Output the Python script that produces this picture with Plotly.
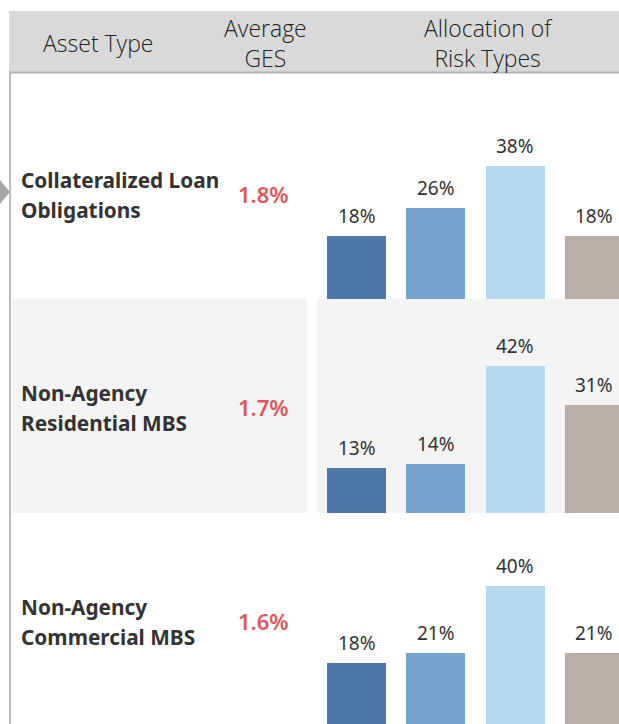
import plotly.graph_objects as go

# data
asset_types = [["Collateralized Loan", "Obligations"],
               ["Non-Agency", "Residential MBS"],
               ["Non-Agency", "Commercial MBS"]]
avg_ges = ["1.8%", "1.7%", "1.6%"]
risk_types = ["Type 1", "Type 2", "Type 3", "Type 4"]
allocation = [[18, 26, 38, 18],
              [13, 14, 42, 31],
              [18, 21, 40, 21]]
bar_colors = ["#4e79a7", "#76a6cf", "#b5d9ef", "#b8afab"]
headers = ["Asset Type", "Average<br>GES", "Allocation of<br>Risk Types"]

W, H = 619, 724
SCALE = 3.5  # px per percentage point

# pixel geometry of each row: top, bottom, bar baseline
rows_px = [(73, 299, 299), (299, 513, 513), (513, 724, 726)]
label_y = [195, 408, 622]


def px(x):
    return x / W


def py(y):
    return 1 - y / H


fig = go.Figure()
ann = []

# x axis mapping: bar centres at 356.5 + 79.33*i
x0, step = 356.5, 79.33
xr = [(317 - x0) / step, (619 - x0) / step]

for i, vals in enumerate(allocation):
    top, bot, base = rows_px[i]
    n = '' if i == 0 else str(i + 1)
    xs = list(range(len(risk_types)))
    fig.add_trace(go.Bar(
        x=xs, y=vals,
        customdata=risk_types,
        marker=dict(color=bar_colors, line_width=0),
        width=59 / step,
        hoverinfo='none',
        xaxis='x' + n, yaxis='y' + n,
    ))
    # value labels above bars
    for xv, v in zip(xs, vals):
        ann.append(dict(text=f'{v}%', x=xv, y=v, xref='x' + n, yref='y' + n,
                        showarrow=False, xanchor='center', yanchor='bottom',
                        yshift=5,
                        font=dict(family='Noto Sans', size=19, color='#333333')))
    fig.layout['xaxis' + n] = dict(
        domain=[px(317), 1], range=xr, visible=False, fixedrange=True,
        anchor='y' + n)
    fig.layout['yaxis' + n] = dict(
        domain=[py(bot), py(top)],
        range=[(base - bot) / SCALE, (base - top) / SCALE],
        visible=False, fixedrange=True, anchor='x' + n)

shapes = []
# header band
shapes.append(dict(type='rect', xref='paper', yref='paper',
                   x0=px(9), x1=1, y0=py(72), y1=py(11),
                   fillcolor='#d9d9d9', line_width=0, layer='below'))
shapes.append(dict(type='line', xref='paper', yref='paper',
                   x0=px(9), x1=1, y0=py(72.5), y1=py(72.5),
                   line=dict(color='#b4b4b4', width=2), layer='below'))
# left border
shapes.append(dict(type='line', xref='paper', yref='paper',
                   x0=px(10), x1=px(10), y0=py(72), y1=0,
                   line=dict(color='#bdbdbd', width=2), layer='below'))
# grey banding on middle row
for a, b in [(12, 307), (317, 619)]:
    shapes.append(dict(type='rect', xref='paper', yref='paper',
                       x0=px(a), x1=px(b), y0=py(513), y1=py(299),
                       fillcolor='#f4f4f4', line_width=0, layer='below'))
# small tooltip arrow on the left
shapes.append(dict(type='path', xref='paper', yref='paper',
                   path=f'M 0 {py(180)} L {px(10)} {py(192)} L 0 {py(204)} Z',
                   fillcolor='#a6a6a6', line_width=0, layer='above'))

head_font = dict(family='Open Sans', size=23, color='#222222', weight=300)
for t, hx in zip(headers, [98, 265, 488]):
    ann.append(dict(text=t, x=px(hx), y=py(43), xref='paper', yref='paper',
                    showarrow=False, font=head_font, align='center',
                    xanchor='center', yanchor='middle'))

lab_font = dict(family='Noto Sans', size=20.8, color='#333333', weight='bold')
ges_font = dict(family='Noto Sans', size=22, color='#e15759', weight=600)
for i, lines in enumerate(asset_types):
    cy = label_y[i]
    for j, line in enumerate(lines):
        ann.append(dict(text=line, x=px(19), y=py(cy - 15 + 30 * j),
                        xref='paper', yref='paper', showarrow=False,
                        xanchor='left', yanchor='middle', font=lab_font))
    ann.append(dict(text=avg_ges[i], x=px(263), y=py(cy - 1),
                    xref='paper', yref='paper', showarrow=False,
                    xanchor='center', yanchor='middle', font=ges_font))

fig.update_layout(
    width=W, height=H,
    margin=dict(l=0, r=0, t=0, b=0),
    paper_bgcolor='white', plot_bgcolor='rgba(0,0,0,0)',
    showlegend=False, bargap=0,
    shapes=shapes, annotations=ann,
)

fig.write_html("out.html", config={'displayModeBar': False},
               post_script="document.body.style.margin='0';")
